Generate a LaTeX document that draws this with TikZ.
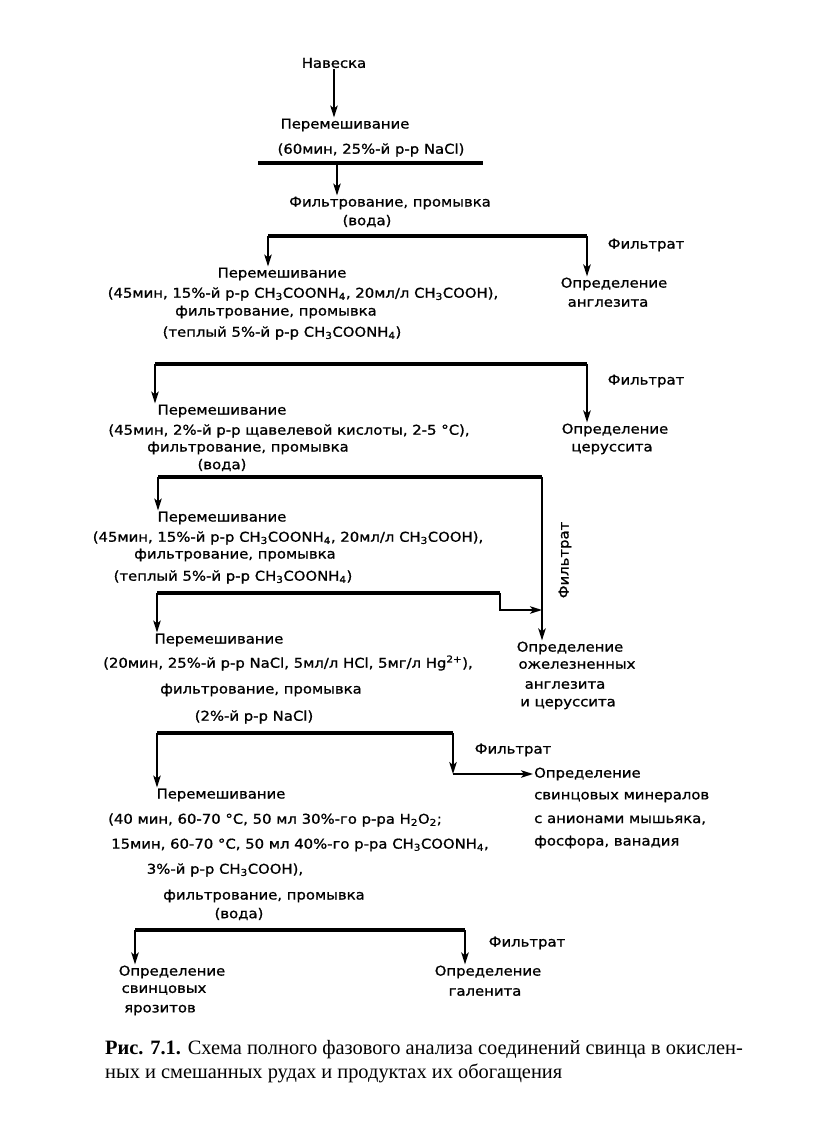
\documentclass[tikz,border=0pt]{standalone}
\usepackage{fontspec}
\setmainfont{Liberation Serif}
\newfontfamily\labfont[FakeStretch=1.1,FakeBold=1]{DejaVu Sans}
\usetikzlibrary{arrows.meta,calc,positioning}

\begin{document}
\begin{tikzpicture}[x=1pt,y=-1pt,
  lab/.style={inner sep=1pt,font=\labfont\fontsize{13.5}{16}\selectfont},
  capt/.style={inner sep=0pt,anchor=west,font=\fontsize{20.4}{23}\selectfont},
  bar/.style={line width=3.4pt},
  arr/.style={line width=1.7pt,-{Stealth[length=12pt,width=7.5pt,inset=3pt]}}]
  \useasboundingbox (0,0) rectangle (814,1137);

  \node[lab] (n0) at (334,63) {Навеска};
  \node[lab] (m1a) at (345,125) {Перемешивание};
  \node[lab] (m1b) at (371,150) {(60мин, 25\%-й р-р NaCl)};
  \node[lab] (f1a) at (390,203) {Фильтрование, промывка};
  \node[lab] (f1b) at (367,221) {(вода)};
  \draw[arr](n0)--(n0 |- m1a.north);
  \coordinate (b1l) at (258,163);
  \coordinate (b1r) at (483,163);
  \draw[bar](b1l)--(b1r);
  \draw[arr](337,163)--(337,0 |- f1a.north);

  \node[lab] (m2a) at (282,274) {Перемешивание};
  \node[lab] (m2b) at (303,294) {(45мин, 15\%-й р-р CH\textsubscript{3}COONH\textsubscript{4}, 20мл/л CH\textsubscript{3}COOH),};
  \node[lab] (m2c) at (276,312) {фильтрование, промывка};
  \node[lab] (m2d) at (282,333) {(теплый 5\%-й р-р CH\textsubscript{3}COONH\textsubscript{4})};
  \node[lab] (fl1) at (646,245) {Фильтрат};
  \node[lab] (d1a) at (614,284) {Определение};
  \node[lab] (d1b) at (608,303) {англезита};
  \coordinate (b2l) at (268,236);
  \coordinate (b2r) at (587,236);
  \draw[bar](b2l)--(b2r);
  \draw[arr](b2l)--(b2l |- m2a.north);
  \draw[arr](b2r)--(b2r |- d1a.north);

  \node[lab] (m3a) at (222,411) {Перемешивание};
  \node[lab] (m3b) at (289,431) {(45мин, 2\%-й р-р щавелевой кислоты, 2-5 °C),};
  \node[lab] (m3c) at (248,448) {фильтрование, промывка};
  \node[lab] (m3d) at (222,465) {(вода)};
  \node[lab] (fl2) at (646,381) {Фильтрат};
  \node[lab] (d2a) at (615,430) {Определение};
  \node[lab] (d2b) at (612,449) {церуссита};
  \coordinate (b3l) at (155,364);
  \coordinate (b3r) at (587,364);
  \draw[bar](b3l)--(b3r);
  \draw[arr](b3l)--(b3l |- m3a.north);
  \draw[arr](b3r)--(b3r |- d2a.north);

  \node[lab] (m4a) at (222,518) {Перемешивание};
  \node[lab] (m4b) at (288,538) {(45мин, 15\%-й р-р CH\textsubscript{3}COONH\textsubscript{4}, 20мл/л CH\textsubscript{3}COOH),};
  \node[lab] (m4c) at (235,555) {фильтрование, промывка};
  \node[lab] (m4d) at (233,577) {(теплый 5\%-й р-р CH\textsubscript{3}COONH\textsubscript{4})};
  \node[lab,rotate=90] (fl3) at (565,560) {Фильтрат};
  \node[lab] (d3a) at (570,648) {Определение};
  \node[lab] (d3b) at (577,665) {ожелезненных};
  \node[lab] (d3c) at (565,685) {англезита};
  \node[lab] (d3d) at (568,704) {и церуссита};
  \coordinate (b4l) at (158,477);
  \coordinate (b4r) at (542,477);
  \draw[bar](b4l)--(b4r);
  \draw[arr](b4l)--(b4l |- m4a.north);
  \draw[arr](b4r)--(b4r |- d3a.north);

  \node[lab] (m5a) at (219,640) {Перемешивание};
  \node[lab] (m5b) at (288,663) {(20мин, 25\%-й р-р NaCl, 5мл/л HCl, 5мг/л Hg\textsuperscript{2+}),};
  \node[lab] (m5c) at (261,690) {фильтрование, промывка};
  \node[lab] (m5d) at (254,717) {(2\%-й р-р NaCl)};
  \coordinate (b5l) at (157,593);
  \coordinate (b5r) at (500,593);
  \coordinate (b5s) at (500,610);
  \draw[bar](b5l)--(b5r);
  \draw[arr](b5l)--(b5l |- m5a.north);
  \draw[arr](b5r)--(b5s)--(b4r |- b5s);

  \node[lab] (m6a) at (221,795) {Перемешивание};
  \node[lab] (m6b) at (275,820) {(40 мин, 60-70 °C, 50 мл 30\%-го р-ра H\textsubscript{2}O\textsubscript{2};};
  \node[lab] (m6c) at (300,845) {15мин, 60-70 °C, 50 мл 40\%-го р-ра CH\textsubscript{3}COONH\textsubscript{4},};
  \node[lab] (m6d) at (225,870) {3\%-й р-р CH\textsubscript{3}COOH),};
  \node[lab] (m6e) at (264,896) {фильтрование, промывка};
  \node[lab] (m6f) at (239,914) {(вода)};
  \node[lab] (fl4) at (513,750) {Фильтрат};
  \node[lab,anchor=west] (d4a) at (533,774) {Определение};
  \node[lab,anchor=west] (d4b) at (533,797) {свинцовых минералов};
  \node[lab,anchor=west] (d4c) at (533,820) {с анионами мышьяка,};
  \node[lab,anchor=west] (d4d) at (533,842) {фосфора, ванадия};
  \coordinate (b6l) at (157,733);
  \coordinate (b6r) at (453,733);
  \coordinate (b6c) at (453,774);
  \draw[bar](b6l)--(b6r);
  \draw[arr](b6l)--(b6l |- m6a.north);
  \draw[arr](b6r)--(b6c);
  \draw[arr](b6c)--(d4a.west);

  \node[lab] (fl5) at (527,943) {Фильтрат};
  \node[lab] (e1a) at (172,972) {Определение};
  \node[lab] (e1b) at (164,990) {свинцовых};
  \node[lab] (e1c) at (160,1010) {ярозитов};
  \node[lab] (e2a) at (488,972) {Определение};
  \node[lab] (e2b) at (485,992) {галенита};
  \coordinate (b7l) at (135,930);
  \coordinate (b7r) at (465,930);
  \draw[bar](b7l)--(b7r);
  \draw[arr](b7l)--(b7l |- e1a.north);
  \draw[arr](b7r)--(b7r |- e2a.north);

  \node[capt] (cap1) at (105,1050) {\textbf{Рис. 7.1.} Схема полного фазового анализа соединений свинца в окислен-};
  \node[capt] (cap2) at (105,1073) {ных и смешанных рудах и продуктах их обогащения};
\end{tikzpicture}
\end{document}
